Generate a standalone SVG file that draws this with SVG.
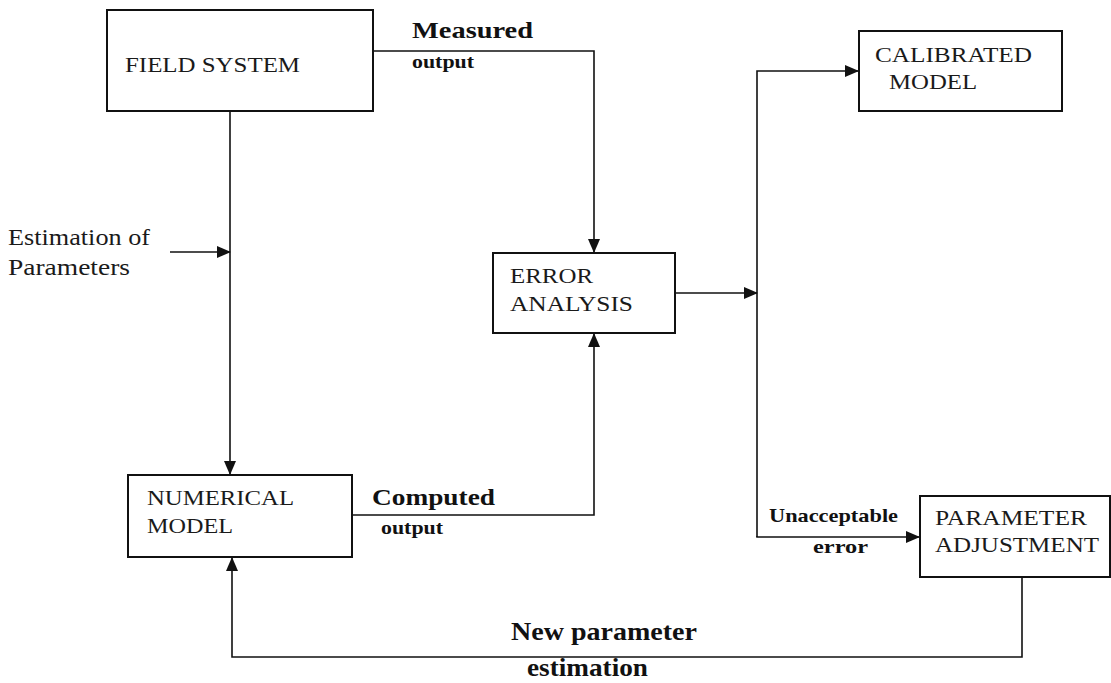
<svg xmlns="http://www.w3.org/2000/svg" width="1111" height="683" viewBox="0 0 1111 683">
<style>
.box{fill:#fff;stroke:#111;stroke-width:2}
.lbl{font-family:"Liberation Serif","Times New Roman",serif;font-size:22px;fill:#1a1a1a}
.b{font-family:"Liberation Serif","Times New Roman",serif;font-weight:bold;fill:#111}
.c{fill:none;stroke:#111;stroke-width:1.6}
</style>
<defs>
<marker id="ah" markerUnits="userSpaceOnUse" markerWidth="14" markerHeight="12" refX="13" refY="6" orient="auto">
<path d="M0,0 L14,6 L0,12 Z" fill="#111"/>
</marker>
</defs>
<rect width="1111" height="683" fill="#fff"/>
<g id="connectors">
<polyline class="c" points="373,51 594,51 594,252" marker-end="url(#ah)"/>
<polyline class="c" points="230,111 230,474" marker-end="url(#ah)"/>
<polyline class="c" points="170,252 230,252" marker-end="url(#ah)"/>
<polyline class="c" points="352,515 594,515 594,334" marker-end="url(#ah)"/>
<polyline class="c" points="675,293 757,293" marker-end="url(#ah)"/>
<polyline class="c" points="757,537 757,71 858,71" marker-end="url(#ah)"/>
<polyline class="c" points="757,536 757,537 919,537" marker-end="url(#ah)"/>
<polyline class="c" points="1022,577 1022,657 232,657 232,558" marker-end="url(#ah)"/>
</g>
<g id="field-system">
<rect class="box" x="107" y="10" width="266" height="101"/>
<text class="lbl" x="125" y="72" textLength="175" lengthAdjust="spacingAndGlyphs">FIELD SYSTEM</text>
</g>
<g id="calibrated-model">
<rect class="box" x="859" y="31" width="203" height="80"/>
<text class="lbl" x="875" y="62" textLength="157" lengthAdjust="spacingAndGlyphs">CALIBRATED</text>
<text class="lbl" x="889" y="89" textLength="88" lengthAdjust="spacingAndGlyphs">MODEL</text>
</g>
<g id="error-analysis">
<rect class="box" x="493" y="253" width="182" height="80"/>
<text class="lbl" x="510" y="283" textLength="83" lengthAdjust="spacingAndGlyphs">ERROR</text>
<text class="lbl" x="510" y="311" textLength="123" lengthAdjust="spacingAndGlyphs">ANALYSIS</text>
</g>
<g id="numerical-model">
<rect class="box" x="128" y="475" width="224" height="82"/>
<text class="lbl" x="147" y="505" textLength="147" lengthAdjust="spacingAndGlyphs">NUMERICAL</text>
<text class="lbl" x="147" y="533" textLength="86" lengthAdjust="spacingAndGlyphs">MODEL</text>
</g>
<g id="parameter-adjustment">
<rect class="box" x="920" y="496" width="190" height="81"/>
<text class="lbl" x="935" y="525" textLength="152" lengthAdjust="spacingAndGlyphs">PARAMETER</text>
<text class="lbl" x="935" y="552" textLength="164" lengthAdjust="spacingAndGlyphs">ADJUSTMENT</text>
</g>
<g id="labels">
<text class="lbl" x="8" y="245" textLength="142" lengthAdjust="spacingAndGlyphs" style="font-size:23px">Estimation of</text>
<text class="lbl" x="8" y="275" textLength="122" lengthAdjust="spacingAndGlyphs" style="font-size:23px">Parameters</text>
<text class="b" x="412" y="38" font-size="24" textLength="121" lengthAdjust="spacingAndGlyphs">Measured</text>
<text class="b" x="412" y="68" font-size="18" textLength="62" lengthAdjust="spacingAndGlyphs">output</text>
<text class="b" x="372" y="505" font-size="24" textLength="123" lengthAdjust="spacingAndGlyphs">Computed</text>
<text class="b" x="381" y="534" font-size="18" textLength="62" lengthAdjust="spacingAndGlyphs">output</text>
<text class="b" x="769" y="522" font-size="19" textLength="129" lengthAdjust="spacingAndGlyphs">Unacceptable</text>
<text class="b" x="813" y="553" font-size="19" textLength="55" lengthAdjust="spacingAndGlyphs">error</text>
<text class="b" x="511" y="640" font-size="25" textLength="186" lengthAdjust="spacingAndGlyphs">New parameter</text>
<text class="b" x="527" y="676" font-size="25" textLength="121" lengthAdjust="spacingAndGlyphs">estimation</text>
</g>
</svg>
